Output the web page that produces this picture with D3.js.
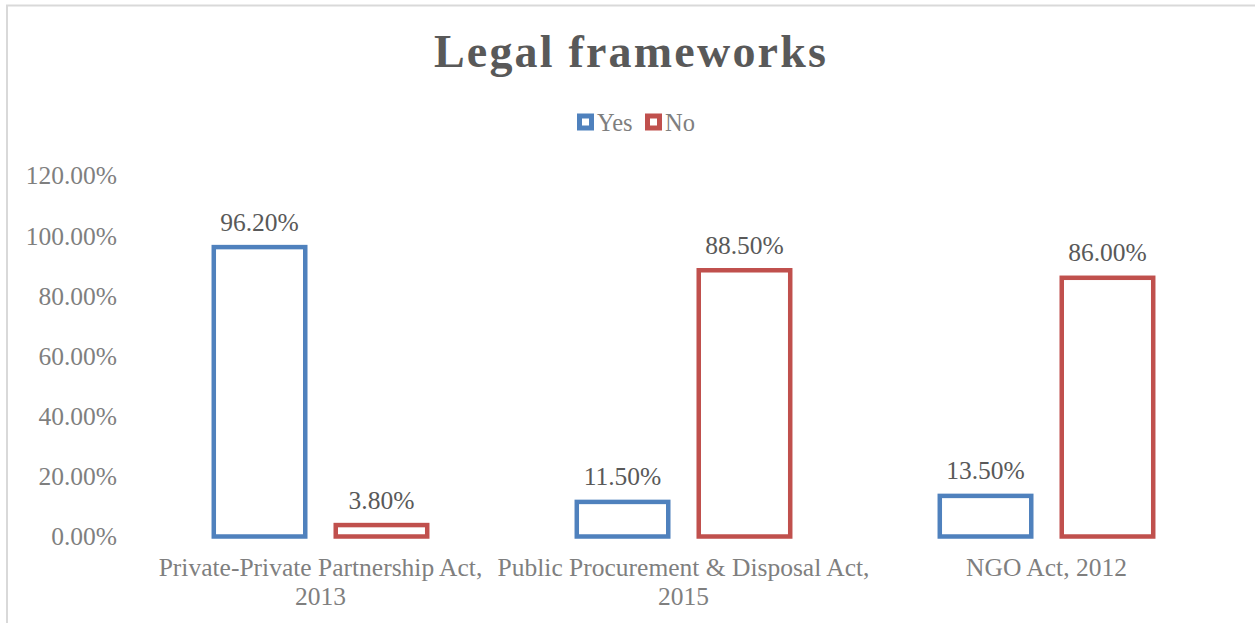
<!DOCTYPE html>
<html>
<head>
<meta charset="utf-8">
<script src="https://cdn.jsdelivr.net/npm/d3@7"></script>
<style>
  html, body { margin: 0; padding: 0; background: #ffffff; }
  svg { display: block; }
</style>
</head>
<body>
<svg id="chart" width="1255" height="623"></svg>
<script>
// Survey responses per legal framework
const categories = [
  ["Private-Private Partnership Act,", "2013"],
  ["Public Procurement & Disposal Act,", "2015"],
  ["NGO Act, 2012"]
];
const seriesNames = ["Yes", "No"];
const yesValues = [96.2, 11.5, 13.5];
const noValues = [3.8, 88.5, 86.0];
const yTicks = [0, 20, 40, 60, 80, 100, 120];

const colors = { Yes: "#4F81BD", No: "#C0504D" };
const fontFamily = "'Liberation Serif', 'Times New Roman', serif";
const labelSize = 25.5;

const svg = d3.select("#chart");
const W = 1255, H = 623;

// chart frame
svg.append("rect")
  .attr("x", 7).attr("y", 5.5)
  .attr("width", W + 10).attr("height", H + 10)
  .attr("fill", "#ffffff")
  .attr("stroke", "#d9d9d9").attr("stroke-width", 2);

const plot = { left: 139, right: 1228, top: 175.5, bottom: 536.5 };

const catKeys = categories.map(c => c.join(" "));
const rows = catKeys.map((k, i) => ({ key: k, lines: categories[i], Yes: yesValues[i], No: noValues[i] }));

const x0 = d3.scaleBand().domain(catKeys).range([plot.left, plot.right]).padding(0);
const bw = x0.bandwidth();
const x1 = d3.scaleBand().domain(seriesNames)
  .range([bw * 0.206, bw * (1 - 0.206)])
  .paddingInner(0.25).paddingOuter(0);
const y = d3.scaleLinear().domain([0, 120]).range([plot.bottom, plot.top]);

// title
svg.append("text")
  .attr("x", 631).attr("y", 67)
  .attr("text-anchor", "middle")
  .attr("font-family", fontFamily)
  .attr("font-weight", "bold")
  .attr("font-size", 46)
  .attr("letter-spacing", 2.2)
  .attr("fill", "#595959")
  .text("Legal frameworks");

// legend
const legend = svg.append("g").attr("transform", "translate(577,113.5)");
const legendX = { Yes: 0, No: 68 };
seriesNames.forEach(s => {
  const g = legend.append("g").attr("transform", `translate(${legendX[s]},0)`);
  g.append("rect")
    .attr("x", 2.5).attr("y", 2.5).attr("width", 12).attr("height", 12)
    .attr("fill", "#ffffff")
    .attr("stroke", colors[s]).attr("stroke-width", 5);
  g.append("text")
    .attr("x", 20).attr("y", 17)
    .attr("font-family", fontFamily)
    .attr("font-size", 24.5)
    .attr("fill", "#7f7f7f")
    .text(s);
});

// y axis (labels only)
const yAxis = d3.axisLeft(y)
  .tickValues(yTicks)
  .tickFormat(d => d3.format(".2f")(d) + "%")
  .tickSize(0).tickPadding(0);
const yg = svg.append("g")
  .attr("transform", `translate(117,0)`)
  .call(yAxis);
yg.select(".domain").remove();
yg.selectAll("text")
  .attr("font-family", fontFamily)
  .attr("font-size", labelSize)
  .attr("fill", "#7f7f7f")
  .attr("dy", "0.33em");

// x axis labels
const xg = svg.append("g");
rows.forEach(r => {
  const t = xg.append("text")
    .attr("x", x0(r.key) + bw / 2)
    .attr("y", 576)
    .attr("text-anchor", "middle")
    .attr("font-family", fontFamily)
    .attr("font-size", labelSize)
    .attr("fill", "#7f7f7f");
  r.lines.forEach((ln, i) => {
    t.append("tspan")
      .attr("x", x0(r.key) + bw / 2)
      .attr("dy", i === 0 ? 0 : 29)
      .text(ln);
  });
});

// bars
const groups = svg.append("g").selectAll("g")
  .data(rows).join("g")
  .attr("transform", d => `translate(${x0(d.key)},0)`);

groups.selectAll("rect")
  .data(d => seriesNames.map(s => ({ s, v: d[s] })))
  .join("rect")
  .attr("x", d => x1(d.s))
  .attr("y", d => y(d.v))
  .attr("width", x1.bandwidth())
  .attr("height", d => y(0) - y(d.v))
  .attr("fill", "#ffffff")
  .attr("stroke", d => colors[d.s])
  .attr("stroke-width", 4.5);

groups.selectAll("text.val")
  .data(d => seriesNames.map(s => ({ s, v: d[s] })))
  .join("text")
  .attr("class", "val")
  .attr("x", d => x1(d.s) + x1.bandwidth() / 2)
  .attr("y", d => y(d.v) - 16.5)
  .attr("text-anchor", "middle")
  .attr("font-family", fontFamily)
  .attr("font-size", labelSize)
  .attr("fill", "#595959")
  .text(d => d3.format(".2f")(d.v) + "%");
</script>
</body>
</html>
